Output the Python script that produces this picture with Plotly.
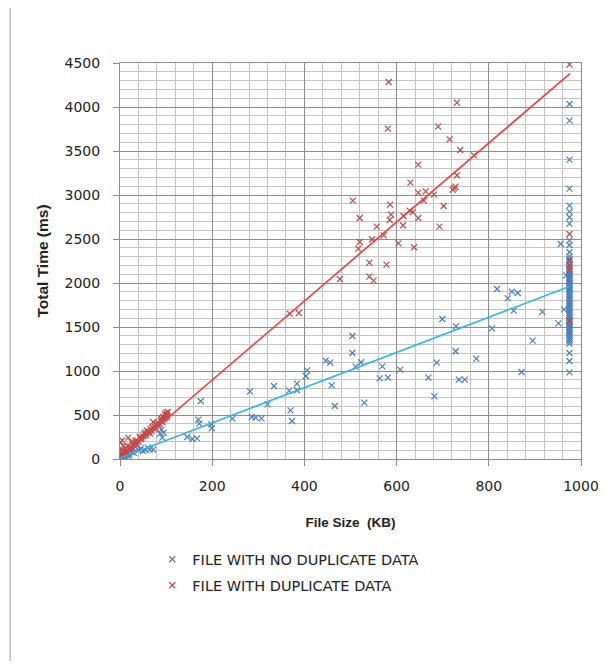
import plotly.graph_objects as go

# ---- data (File Size KB, Total Time ms) ----
dup_kb = [583, 731, 581, 690, 715, 738, 768, 647, 731, 630, 725, 728, 722, 647, 663, 681,
          505, 659, 586, 702, 628, 635, 588, 615, 520, 585, 647, 614, 557, 693, 572, 547,
          520, 604, 517, 638, 541, 578, 541, 550, 477, 368, 388,
          975, 975, 975, 975, 975, 975,
          0, 1, 2, 3, 4, 5, 6, 8, 10, 12, 14, 16, 18, 20, 22, 25, 28, 30, 33, 36, 40, 43,
          46, 50, 53, 56, 58, 60, 63, 66, 68, 70, 72, 75, 78, 80, 83, 86, 88, 90, 92, 94,
          96, 98, 100, 102, 104, 84, 76, 65, 55, 45, 35, 26, 15, 7, 3, 90, 97, 101]
dup_ms = [4284, 4050, 3754, 3777, 3633, 3511, 3451, 3345, 3224, 3141, 3080, 3095, 3060, 3027, 3042, 3004,
          2936, 2936, 2890, 2875, 2822, 2806, 2777, 2761, 2739, 2716, 2739, 2656, 2641, 2641, 2542, 2497,
          2466, 2451, 2391, 2406, 2232, 2209, 2073, 2027, 2045, 1652, 1659,
          4482, 2557, 2258, 1565, 2200, 2150,
          20, 193, 60, 30, 110, 212, 45, 80, 70, 120, 95, 150, 243, 110, 140, 193, 160, 175, 200, 215, 195, 250,
          240, 260, 285, 270, 326, 300, 310, 340, 320, 355, 420, 370, 360, 395, 410, 400, 430, 445, 420, 477,
          455, 470, 527, 500, 534, 380, 340, 290, 300, 225, 180, 130, 70, 150, 100, 460, 510, 480]

nodup_kb = [699, 729, 504, 504, 728, 773, 446, 456, 687, 406, 403, 511, 523, 569, 608, 334,
            384, 384, 367, 459, 563, 581, 669, 735, 748, 682, 370, 466, 530, 373,
            818, 850, 863, 841, 854, 916, 807, 951, 963, 895, 871, 956, 968,
            282, 320, 244, 286, 294, 307, 175, 170, 172, 198, 199, 146, 157, 167,
            90, 87, 92, 95, 72, 36, 40, 29, 10, 5, 15, 20, 25, 45, 50, 55, 60, 33, 30, 18, 2, 8, 12, 65]
nodup_ms = [1591, 1508, 1398, 1205, 1224, 1141, 1118, 1095, 1095, 1008, 943, 1050, 1099, 1053, 1016, 830,
            857, 781, 777, 837, 917, 925, 925, 902, 902, 712, 553, 602, 641, 432,
            1932, 1902, 1886, 1826, 1686, 1671, 1485, 1542, 1701, 1345, 989, 2443, 2087,
            769, 621, 459, 477, 470, 462, 656, 448, 402, 394, 349, 250, 227, 235,
            334, 288, 243, 300, 107, 156, 99, 118, 40, 20, 60, 50, 80, 120, 90, 100, 130, 140, 70, 30, 10, 25, 45, 110]

column_ms = [4034, 3845, 3402, 3072, 2880, 2811, 2747, 2675, 2485, 2432, 2349, 2300, 2270, 2240, 2210,
             2180, 2160, 2140, 2120, 2100, 2080, 2060, 2040, 2020, 2000, 1980, 1960, 1940, 1920, 1900,
             1880, 1860, 1840, 1820, 1800, 1780, 1760, 1740, 1720, 1700, 1680, 1660, 1640, 1620, 1600,
             1580, 1560, 1540, 1520, 1500, 1480, 1460, 1440, 1420, 1400, 1380, 1360, 1340, 1313, 1205,
             1114, 985]
column_kb = [975] * len(column_ms)

trend_kb = [0, 976]
dup_trend_ms = [0, 4380]
nodup_trend_ms = [10, 1962]

x_ticks = [0, 200, 400, 600, 800, 1000]
y_ticks = [0, 500, 1000, 1500, 2000, 2500, 3000, 3500, 4000, 4500]

BLUE = "#4A7EBB"
RED = "#BE4B48"

fig = go.Figure()
fig.add_trace(go.Scatter(
    x=nodup_kb + column_kb, y=nodup_ms + column_ms, mode="markers",
    name="FILE WITH NO DUPLICATE DATA",
    marker=dict(symbol="x-thin", size=6, line=dict(color=BLUE, width=1.2)),
    legend="legend"))
fig.add_trace(go.Scatter(
    x=dup_kb, y=dup_ms, mode="markers",
    name="FILE WITH DUPLICATE DATA",
    marker=dict(symbol="x-thin", size=6, line=dict(color=RED, width=1.2)),
    legend="legend2"))
fig.add_trace(go.Scatter(x=trend_kb, y=dup_trend_ms, mode="lines",
                         line=dict(color="#F23C3C", width=1.6), showlegend=False))
fig.add_trace(go.Scatter(x=trend_kb, y=nodup_trend_ms, mode="lines",
                         line=dict(color="#2DB4EA", width=1.6), showlegend=False))

axis_common = dict(showline=True, mirror=True, linecolor="#8C8C8C", linewidth=1,
                   showgrid=True, gridcolor="#8C8C8C", gridwidth=1, zeroline=False,
                   ticks="outside", ticklen=6, tickcolor="#8C8C8C", automargin=False,
                   tickfont=dict(family="DejaVu Sans", size=14, color="#222"))

fig.update_xaxes(range=[0, 1000], tickvals=x_ticks, ticklabelstandoff=8,
                 ticklabeloverflow="allow",
                 minor=dict(dtick=40, showgrid=True, gridcolor="#C4C4C4", gridwidth=1, ticks=""),
                 title=dict(text="File Size  (KB)", standoff=24,
                            font=dict(family="Liberation Sans", size=13.5, color="#222", weight="bold")),
                 **axis_common)
fig.update_yaxes(range=[0, 4500], tickvals=y_ticks, ticklabelstandoff=10,
                 minor=dict(dtick=100, showgrid=True, gridcolor="#C4C4C4", gridwidth=1, ticks=""),
                 title=dict(text="Total Time (ms)", standoff=12,
                            font=dict(family="Liberation Sans", size=15.5, color="#222", weight="bold")),
                 **axis_common)

legend_font = dict(family="DejaVu Sans", size=14.5, color="#222")
fig.update_layout(
    width=590, height=653,
    margin=dict(l=112, r=16.5, t=54.7, b=202.3),
    paper_bgcolor="white", plot_bgcolor="white",
    legend=dict(x=0.07, y=-0.2533, xanchor="left", yanchor="middle", font=legend_font,
                bgcolor="rgba(0,0,0,0)"),
    legend2=dict(x=0.07, y=-0.319, xanchor="left", yanchor="middle", font=legend_font,
                 bgcolor="rgba(0,0,0,0)"),
    shapes=[dict(type="line", xref="paper", yref="paper", x0=-0.2383, x1=-0.2383,
                 y0=-0.53, y1=1.16, line=dict(color="#A0A0A0", width=1))],
)

# let the last x tick label ("1000") draw past the figure edge, as in the original
post_js = """
function _ovf(){
  document.querySelectorAll('svg, .svg-container, .plot-container, .js-plotly-plot, .plotly-graph-div')
    .forEach(function(e){ e.style.setProperty('overflow', 'visible', 'important'); });
}
_ovf(); setTimeout(_ovf, 50); setTimeout(_ovf, 300);
"""
fig.write_html("out.html", post_script=post_js)
